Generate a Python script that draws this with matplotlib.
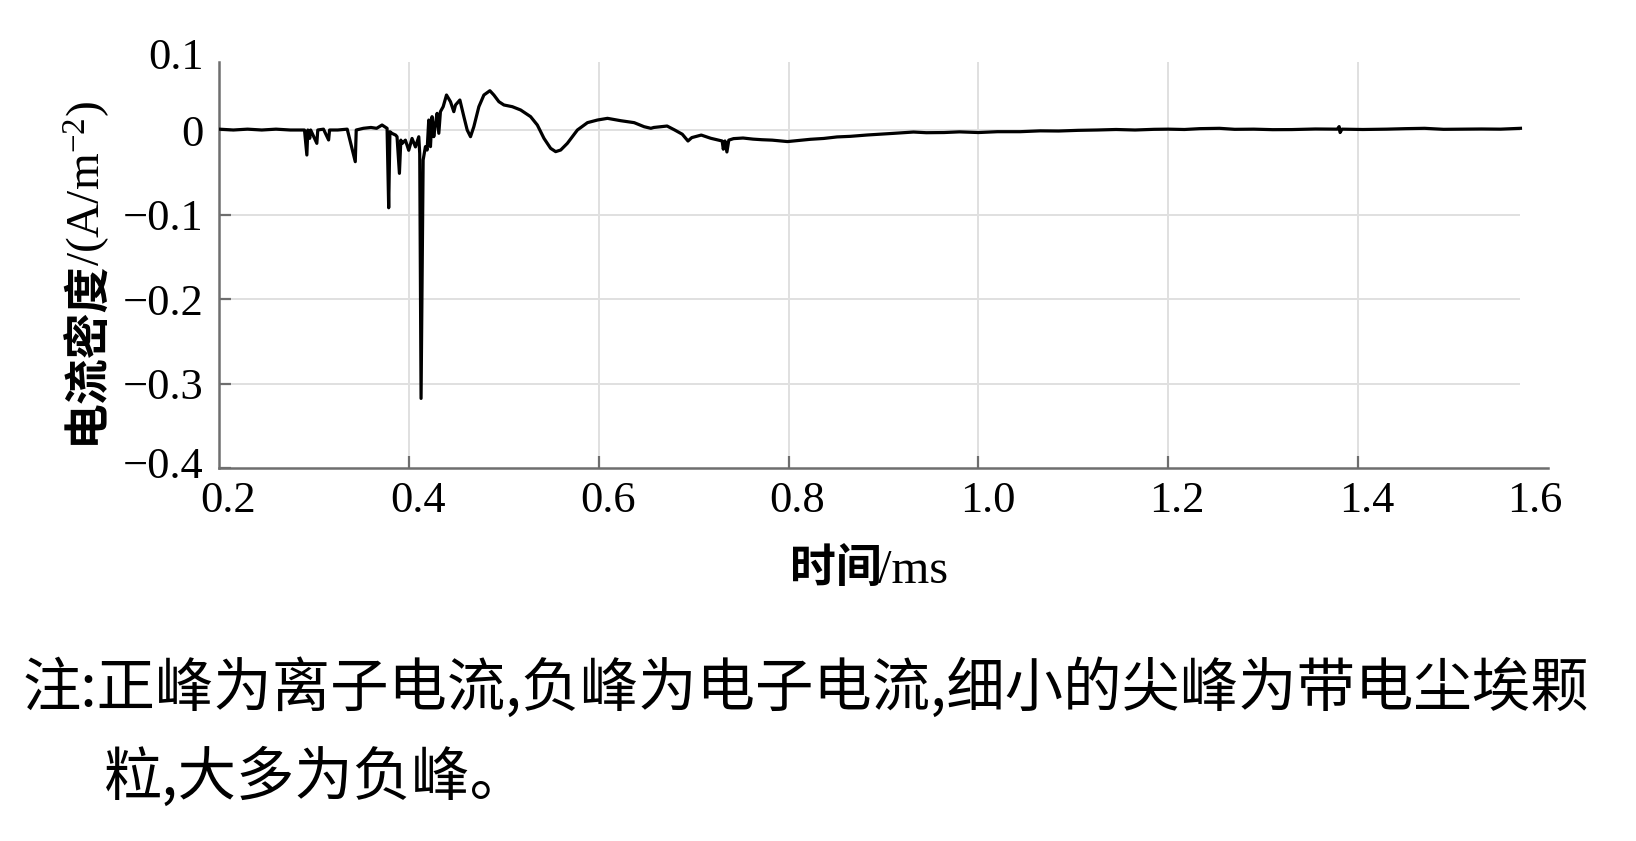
import matplotlib
matplotlib.use("Agg")
import matplotlib.pyplot as plt
from matplotlib.transforms import ScaledTranslation

# Tijd (ms) en stroomdichtheid
time_ms = [
    0.200, 0.215, 0.230, 0.245, 0.260, 0.275, 0.290, 0.2925, 0.2935, 0.2955,
    0.2965, 0.3030, 0.3040, 0.3100, 0.3154, 0.3164, 0.3250, 0.3350, 0.3435, 0.3445,
    0.3520, 0.3600, 0.3660, 0.3717, 0.3770, 0.3787, 0.3800, 0.3822, 0.3860, 0.3875,
    0.3900, 0.3915, 0.3928, 0.3963, 0.3998, 0.4033, 0.4069, 0.4104, 0.4114, 0.4128,
    0.4150, 0.4174, 0.4192, 0.4209, 0.4227, 0.4244, 0.4262, 0.4280, 0.4297, 0.4315,
    0.4332, 0.4361, 0.4396, 0.4438, 0.4473, 0.4491, 0.4537, 0.4579, 0.4614, 0.4649,
    0.4684, 0.4737, 0.4790, 0.4853, 0.4895, 0.4948, 0.5001, 0.5089, 0.5177, 0.5282,
    0.5353, 0.5423, 0.5493, 0.5546, 0.5599, 0.5669, 0.5775, 0.5881, 0.5986, 0.6092,
    0.6232, 0.6373, 0.6478, 0.6549, 0.6580, 0.6720, 0.6800, 0.6880, 0.6940, 0.6980,
    0.7080, 0.7180, 0.7300, 0.7312, 0.7330, 0.7350, 0.7370, 0.7420, 0.7520, 0.7626,
    0.7720, 0.7827, 0.7988, 0.8100, 0.8230, 0.8370, 0.8510, 0.8650, 0.8830, 0.8960,
    0.9100, 0.9316, 0.9450, 0.9638, 0.9800, 1.0000, 1.0200, 1.0440, 1.0650, 1.0845,
    1.1050, 1.1250, 1.1450, 1.1650, 1.1850, 1.2000, 1.2170, 1.2330, 1.2540, 1.2700,
    1.2900, 1.3100, 1.3300, 1.3550, 1.3780, 1.3800, 1.3810, 1.3830, 1.4050, 1.4300,
    1.4500, 1.4700, 1.4900, 1.5100, 1.5300, 1.5500, 1.5710,
]
current = [
    0.001, 0.000, 0.001, 0.000, 0.001, 0.000, 0.000, -0.0296, 0.000, -0.0099,
    0.000, -0.0158, 0.000, 0.001, -0.0118, 0.000, 0.000, 0.001, -0.0375, 0.000,
    0.002, 0.003, 0.002, 0.0059, 0.002, -0.092, -0.002, -0.004, -0.006, -0.008,
    -0.0513, -0.012, -0.016, -0.012, -0.024, -0.010, -0.020, -0.008, -0.028, -0.3176,
    -0.0355, -0.0197, -0.0237, 0.0118, -0.0197, 0.0158, -0.0079, 0.0079, 0.0197, -0.0039,
    0.0217, 0.0276, 0.0414, 0.0335, 0.0217, 0.0296, 0.0355, 0.0158, 0.000, -0.0079,
    0.0039, 0.0276, 0.0414, 0.0465, 0.0414, 0.0335, 0.0296, 0.0276, 0.0237, 0.0158,
    0.0059, -0.0099, -0.0217, -0.0256, -0.0237, -0.0158, 0.000, 0.0087, 0.0118, 0.0138,
    0.0110, 0.0087, 0.0039, 0.0020, 0.003, 0.0047, 0.000, -0.005, -0.013, -0.009,
    -0.006, -0.0098, -0.013, -0.0227, -0.013, -0.026, -0.012, -0.0102, -0.0095, -0.0108,
    -0.0115, -0.012, -0.0137, -0.0125, -0.011, -0.0100, -0.0082, -0.0075, -0.0059, -0.0050,
    -0.004, -0.0024, -0.0032, -0.003, -0.0022, -0.003, -0.0020, -0.002, -0.0010, -0.0012,
    -0.0004, 0.000, 0.0006, 0.000, 0.0008, 0.001, 0.0006, 0.0016, 0.002, 0.0008,
    0.001, 0.0004, 0.0005, 0.0012, 0.001, 0.004, -0.003, 0.001, 0.0006, 0.001,
    0.0016, 0.002, 0.0008, 0.001, 0.0012, 0.001, 0.002,
]

x_ticks = [0.2, 0.4, 0.6, 0.8, 1.0, 1.2, 1.4, 1.6]
x_labels = ["0.2", "0.4", "0.6", "0.8", "1.0", "1.2", "1.4", "1.6"]
y_ticks = [-0.4, -0.3, -0.2, -0.1, 0.0, 0.1]
y_labels = ["\u22120.4", "\u22120.3", "\u22120.2", "\u22120.1", "0", "0.1"]

note_line1 = "注:正峰为离子电流,负峰为电子电流,细小的尖峰为带电尘埃颗"
note_line2 = "粒,大多为负峰。"

SERIF = "Liberation Serif"
CJK = "Noto Sans CJK SC"
AXIS_GREY = "#6e6e6e"
GRID_GREY = "#e0e0e0"

plt.rcParams["mathtext.fontset"] = "custom"
plt.rcParams["mathtext.rm"] = SERIF
plt.rcParams["mathtext.it"] = SERIF + ":italic"


def shift(label, fig, dx_px, dy_px):
    """Verschuif een tekstlabel een aantal pixels."""
    label.set_transform(label.get_transform() +
                        ScaledTranslation(dx_px / 100, dy_px / 100, fig.dpi_scale_trans))


def plot_current(path="out.png"):
    fig = plt.figure(figsize=(16.36, 8.41), dpi=100)
    ax = fig.add_axes([0.1339, 0.4435, 0.8123, 0.5024])

    ax.set_xlim(0.2, 1.6)
    ax.set_ylim(-0.4, 0.1)
    y_top = 0.08  # as stopt iets onder 0.1

    # rasterlijnen
    t_end = time_ms[-1]
    ax.vlines(x_ticks[1:-1], -0.4, y_top, colors=GRID_GREY, linewidth=1.4, zorder=1)
    ax.hlines(y_ticks[1:-1], x_ticks[0], t_end, colors=GRID_GREY, linewidth=1.4, zorder=1)

    ax.plot(time_ms, current, color="black", linewidth=2.3, zorder=3)

    for side in ["top", "right"]:
        ax.spines[side].set_visible(False)
    for side in ["left", "bottom"]:
        ax.spines[side].set_color(AXIS_GREY)
        ax.spines[side].set_linewidth(1.8)
    ax.spines["left"].set_bounds(-0.4, y_top)

    ax.set_xticks(x_ticks)
    ax.set_xticklabels(x_labels, fontfamily=SERIF, fontsize=32)
    ax.set_yticks(y_ticks)
    ax.set_yticklabels(y_labels, fontfamily=SERIF, fontsize=32)
    ax.tick_params(axis="both", direction="in", length=8.5, width=1.6,
                   color=AXIS_GREY)
    ax.tick_params(axis="x", pad=9)
    ax.tick_params(axis="y", pad=11)
    ax.yaxis.get_major_ticks()[-1].tick1line.set_visible(False)
    ax.xaxis.get_major_ticks()[0].tick1line.set_visible(False)
    ax.xaxis.get_major_ticks()[-1].tick1line.set_visible(False)

    # labels iets verschoven, zoals in het origineel
    xlabels = ax.get_xticklabels()
    for i, lab in enumerate(xlabels):
        shift(lab, fig, -13 if i == len(xlabels) - 1 else 9, 0)
    ylabels = ax.get_yticklabels()
    shift(ylabels[0], fig, 0, 6)
    shift(ylabels[-1], fig, 0, -8)

    # y-as titel (Chinees vet + eenheid)
    fig.text(0.0611, 0.6908, "电流密度", rotation=90, rotation_mode="anchor",
             ha="right", va="baseline", fontfamily=CJK, fontweight="bold",
             fontsize=33)
    fig.text(0.0611, 0.6838, "/(A/m$^{-2}$)", rotation=90, rotation_mode="anchor",
             ha="left", va="baseline", fontfamily=SERIF, fontsize=34)

    # x-as titel
    fig.text(882 / 1636, 1 - 583 / 841, "时间", ha="right", va="baseline",
             fontfamily=CJK, fontweight="bold", fontsize=33)
    fig.text(878 / 1636, 1 - 583 / 841, "/ms", ha="left", va="baseline",
             fontfamily=SERIF, fontsize=35)

    # opmerking onder de grafiek
    fig.text(23 / 1636, 1 - 689 / 841, note_line1, ha="left", va="center",
             fontfamily=CJK, fontsize=42)
    fig.text(104 / 1636, 1 - 778 / 841, note_line2, ha="left", va="center",
             fontfamily=CJK, fontsize=42)

    fig.savefig(path, dpi=100, facecolor="white")
    print(f"Grafiek opgeslagen: {path}")


if __name__ == "__main__":
    plot_current()
